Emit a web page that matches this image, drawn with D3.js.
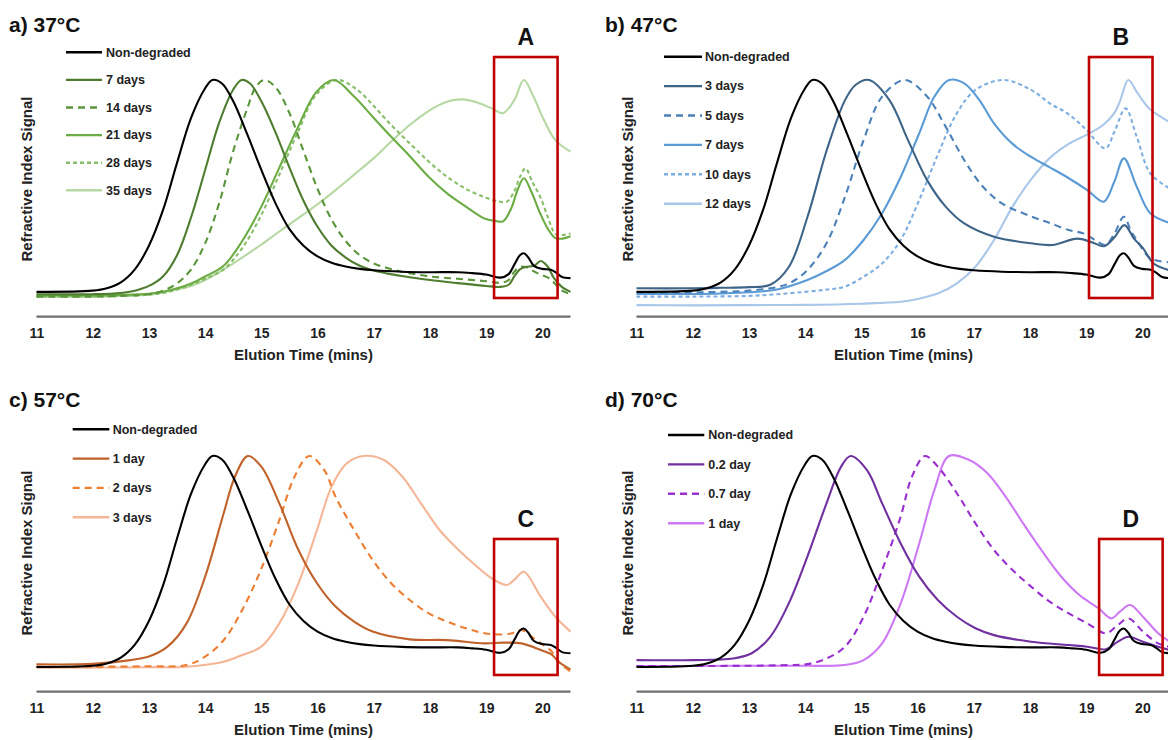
<!DOCTYPE html>
<html>
<head>
<meta charset="utf-8">
<script src="https://cdn.jsdelivr.net/npm/d3@7"></script>
<style>
  html, body { margin: 0; padding: 0; background: #fff; }
  svg { display: block; font-family: "Liberation Sans", Arial, sans-serif; }
</style>
</head>
<body>
<svg id="chart" width="1168" height="740"></svg>
<script>
// ---------- DATA (elution time in mins, refractive index signal, peak = 100) ----------
const tickValues = [11, 12, 13, 14, 15, 16, 17, 18, 19, 20];
const xLabel = "Elution Time (mins)";
const yLabel = "Refractive Index Signal";

const nonDegraded = [[11,10.5],[12,11],[12.25,12],[12.5,14.5],[12.75,20],[13,30],[13.25,45],[13.5,65],[13.75,84],[14,96.5],[14.13,100],[14.3,98.5],[14.5,91],[14.75,77],[15,62],[15.25,48],[15.5,37],[15.75,30],[16,25.5],[16.25,22.8],[16.5,21.2],[16.75,20.2],[17,19.6],[17.5,19],[18,18.8],[18.5,18.8],[18.75,18.4],[19,17.8],[19.25,16.5],[19.4,18],[19.5,22],[19.6,26],[19.67,26.8],[19.75,25],[19.85,21.5],[20,20.2],[20.15,19.8],[20.25,18.5],[20.35,16.8],[20.5,16.3]];

// a) 37 °C
const a7days = [[11,9.5],[12,9.5],[12.5,10],[12.75,11],[13,13],[13.25,17],[13.5,26],[13.75,42],[14,62],[14.25,82],[14.5,96],[14.65,100],[14.8,98.5],[15,91],[15.25,78],[15.5,63],[15.75,49],[16,38],[16.25,30],[16.5,25],[16.75,21.5],[17,19.5],[17.25,18.2],[17.5,17.2],[18,15.5],[18.5,14.2],[19,13],[19.25,12.6],[19.4,13.5],[19.5,17],[19.6,20],[19.7,21],[19.85,21.5],[19.97,23.5],[20.1,21],[20.2,16.5],[20.35,12.5],[20.5,10.5]];
const a14days = [[11,8.5],[12,8.5],[12.5,8.8],[13,9.5],[13.25,11],[13.5,14],[13.75,20],[14,31],[14.25,48],[14.5,70],[14.75,88],[14.9,97],[15.05,100],[15.25,97],[15.5,86],[15.75,70],[16,54],[16.25,41],[16.5,32],[16.75,26],[17,22.5],[17.25,20.5],[17.5,19],[18,17],[18.5,16],[19,15],[19.25,14.3],[19.4,15.5],[19.5,19],[19.6,21],[19.7,21],[19.8,19.8],[19.9,18.5],[20,17.5],[20.1,16.5],[20.2,14.5],[20.35,11],[20.5,9.5]];
const a21days = [[11,9],[12,9],[12.5,9.2],[13,9.7],[13.25,10.5],[13.5,12],[13.75,14],[14,17],[14.33,21.5],[14.66,32],[15,46.5],[15.32,63],[15.65,80],[15.98,95],[16.29,100],[16.65,93],[16.98,84.5],[17.31,76],[17.65,67.6],[17.98,59],[18.31,52],[18.64,46.5],[18.97,41.5],[19.15,40.5],[19.3,40.3],[19.45,46],[19.55,53],[19.67,58.5],[19.8,53],[19.96,43.7],[20.1,37],[20.23,33.2],[20.36,33],[20.5,34]];
const a28days = [[11,8.5],[12,8.5],[12.5,8.8],[13,9.3],[13.25,10],[13.5,11.5],[13.75,13.5],[14,16],[14.33,20],[14.66,29],[15,43],[15.32,60],[15.65,78],[15.98,94],[16.35,100],[16.7,96],[17,89],[17.31,81],[17.65,73],[17.98,65.5],[18.31,59],[18.64,54],[18.97,50.5],[19.2,48.8],[19.37,48.6],[19.5,53],[19.6,59],[19.7,62.7],[19.82,57],[19.96,50.7],[20.1,42],[20.23,35],[20.36,34.5],[20.5,35.2]];
const a35days = [[11,8.5],[12,8.5],[12.5,8.8],[13,9.5],[13.5,11.5],[13.75,13],[14,15.5],[14.33,20],[14.66,25],[15,30.5],[15.32,36],[15.65,41.5],[16,47.5],[16.32,53.5],[16.65,60],[17,67],[17.31,74],[17.64,81],[17.98,87],[18.3,90.8],[18.57,91.8],[18.84,90.5],[19.1,88],[19.3,86],[19.5,91.5],[19.67,100],[19.84,93],[20.03,83],[20.23,74.6],[20.5,69.7]];

// b) 47 °C
const b3days = [[11,12],[12,12],[12.5,12.2],[13,12.5],[13.38,13.5],[13.71,21],[14.04,42],[14.38,70],[14.71,91.5],[14.9,98],[15.14,100],[15.5,91.5],[15.83,74.6],[16.17,57.7],[16.5,46.5],[16.83,39.4],[17.36,33.8],[18.02,31],[18.4,30.3],[18.84,33],[19.1,31.5],[19.32,29.8],[19.5,33.5],[19.68,38.7],[19.85,33],[20.01,29],[20.2,22.5],[20.5,19.5]];
const b5days = [[11,10.3],[12,10.3],[12.5,10.5],[13,11],[13.5,12.5],[13.75,14.5],[14.04,19.7],[14.38,31],[14.71,50.7],[15.04,74.6],[15.37,93],[15.77,100],[16.17,93],[16.5,80.3],[16.83,66.2],[17.16,55],[17.5,47.9],[18.03,42.3],[18.36,39.5],[18.69,36.6],[18.95,35.2],[19.15,32.5],[19.34,30.3],[19.5,35],[19.67,42.2],[19.8,36],[19.9,32.4],[20.14,24.7],[20.5,23]];
const b7days = [[11,9.6],[12,9.6],[12.5,9.8],[13,10.3],[13.5,11.5],[14.04,15.5],[14.4,19.5],[14.71,24],[15.04,32.4],[15.37,43.7],[15.7,59],[16.03,77.5],[16.3,93],[16.56,100],[16.83,98.6],[17.1,91.5],[17.36,81.7],[17.69,73],[18.02,67.5],[18.36,63],[18.69,58.5],[19.02,53.5],[19.31,48.6],[19.5,57],[19.67,66.9],[19.9,54.9],[20.14,43.7],[20.5,39.5]];
const b10days = [[11,8.5],[12,8.5],[13,8.8],[13.5,9.5],[14,10.5],[14.4,11.5],[14.71,12.7],[15.04,16.9],[15.37,22.5],[15.7,32.4],[16.03,49.3],[16.37,69],[16.7,86],[17.03,95.8],[17.52,100],[18.02,95.8],[18.36,90],[18.69,85.5],[19,79],[19.34,71.1],[19.5,78],[19.7,88],[19.9,76],[20.14,60.6],[20.5,54]];
const b12days = [[11,4.9],[12,4.8],[13,4.9],[14,5],[15,5.5],[15.7,6.3],[16,7.5],[16.37,9.9],[16.7,14.1],[17.03,21.1],[17.36,32.4],[17.69,46.5],[18.02,58],[18.35,67],[18.69,73],[19.02,77],[19.3,81],[19.5,86],[19.6,91],[19.75,100],[19.9,95],[20,91.5],[20.14,87.5],[20.5,82]];

// c) 57 °C
const c1day = [[11,11.6],[12,11.8],[12.67,13.4],[13,14.9],[13.33,19.1],[13.67,29],[14,48.8],[14.33,75.7],[14.53,91.2],[14.76,100],[15,95.5],[15.32,79.9],[15.66,60.1],[15.99,46],[16.32,36.1],[16.65,29.7],[16.98,25.5],[17.64,22.2],[18.3,21.9],[18.97,20.5],[19.3,20.8],[19.63,20.5],[19.97,17.7],[20.15,16],[20.3,12.5],[20.5,9.5]];
const c2days = [[11,10.6],[12,10.6],[13,10.8],[13.67,11.3],[14,14.9],[14.33,21.9],[14.66,34.7],[14.99,51.6],[15.32,72.8],[15.59,91.2],[15.85,100],[16.12,94],[16.32,82.7],[16.65,68.6],[16.98,55.9],[17.31,46],[17.64,38.9],[17.98,33.2],[18.31,29.7],[18.64,26.9],[18.97,24.8],[19.3,24.3],[19.5,25],[19.63,26.2],[19.8,23.5],[19.97,20.5],[20.15,17.5],[20.3,12.5],[20.5,8.5]];
const c3days = [[11,10.2],[12,10.2],[13,10.4],[13.67,10.6],[14.33,12.7],[14.66,15.6],[15,19.1],[15.32,29],[15.66,46],[15.99,68.6],[16.25,87],[16.52,96.9],[16.82,100],[17.18,98.3],[17.51,91.2],[17.84,79.9],[18.17,68.6],[18.51,60.1],[18.84,53],[19.1,48.1],[19.37,45.3],[19.52,48],[19.67,50.9],[19.97,40.3],[20.23,31.8],[20.5,25.5]];

// d) 70 °C
const d02day = [[11,13.4],[12,13.4],[12.72,14.1],[13.05,16.3],[13.38,23.3],[13.71,37.5],[14.04,57.3],[14.38,79.9],[14.64,95.5],[14.81,100],[15.1,94],[15.37,79.9],[15.7,62.9],[16.03,48.8],[16.36,38.9],[16.7,31.8],[17.03,26.9],[17.36,24],[18.02,21.2],[18.69,19.8],[19.02,19.1],[19.35,18],[19.55,21],[19.75,23.3],[20.01,21.2],[20.28,19.1],[20.5,17.5]];
const d07day = [[11,10.9],[12,10.9],[13,11],[13.7,11.3],[14.04,11.7],[14.38,14.1],[14.71,19.1],[15.04,31.8],[15.37,51.6],[15.7,74.3],[15.9,91.2],[16.13,100],[16.36,95.5],[16.7,84.2],[17.03,71.4],[17.36,60.1],[17.69,51.6],[18.02,44.6],[18.35,38.2],[18.69,33.2],[19.02,29],[19.35,24.8],[19.55,28],[19.75,31.1],[20.01,25.5],[20.28,20.5],[20.5,19]];
const d1day = [[11,10.9],[12,10.9],[13,11],[14,11],[14.71,11.3],[15.04,13.4],[15.37,20.5],[15.7,37.5],[16.03,62.9],[16.3,85.6],[16.56,100],[16.9,98.5],[17.23,93],[17.56,83],[17.89,71],[18.22,59.5],[18.55,49],[18.88,41],[19.22,35.4],[19.45,31.1],[19.6,34],[19.78,36.8],[20.01,31.8],[20.28,24.8],[20.5,21]];

// highlighted regions [t0, t1, signalBottom, signalTop]
const boxA = [19.14, 20.27, 7.9, 109.7];
const boxB = [19.05, 20.18, 7.9, 109.7];
const boxC = [19.14, 20.27, 7.1, 64.8];
const boxD = [19.23, 20.36, 7.1, 64.8];

// ---------- PANELS (layout + styles) ----------
const panels = [
  { title: "a) 37°C", tx: 9, ty: 32, xr: [36.5, 570.5], axisY: 316.7, peakY: 80, ylx: 27, yly: 179,
    leg: { x1: 66, x2: 102, tx: 106, y0: 52.3, dy: 27.6 }, box: boxA, boxLabel: "A", axisEnd: 570.5,
    series: [
      { name: "Non-degraded", data: nonDegraded, color: "#000000", dash: null },
      { name: "7 days",  data: a7days,  color: "#4f7d2f", dash: null },
      { name: "14 days", data: a14days, color: "#5a953a", dash: "7,5" },
      { name: "21 days", data: a21days, color: "#6cac45", dash: null },
      { name: "28 days", data: a28days, color: "#88be68", dash: "4,3" },
      { name: "35 days", data: a35days, color: "#b6d8a3", dash: null }
    ]},
  { title: "b) 47°C", tx: 605, ty: 32, xr: [636.5, 1170.5], axisY: 316.7, peakY: 80, ylx: 628, yly: 179,
    leg: { x1: 664, x2: 702, tx: 705, y0: 56.7, dy: 29.4 }, box: boxB, boxLabel: "B", axisEnd: 1168,
    series: [
      { name: "Non-degraded", data: nonDegraded, color: "#000000", dash: null },
      { name: "3 days",  data: b3days,  color: "#3e6488", dash: null },
      { name: "5 days",  data: b5days,  color: "#4b80b8", dash: "7,5" },
      { name: "7 days",  data: b7days,  color: "#5b9bd5", dash: null },
      { name: "10 days", data: b10days, color: "#7eaee0", dash: "4,3" },
      { name: "12 days", data: b12days, color: "#a9c7e9", dash: null }
    ]},
  { title: "c) 57°C", tx: 9, ty: 407, xr: [36.5, 570.5], axisY: 691.7, peakY: 456, ylx: 27, yly: 553,
    leg: { x1: 72.7, x2: 109.3, tx: 112.7, y0: 429.3, dy: 29.3 }, box: boxC, boxLabel: "C", axisEnd: 570.5,
    series: [
      { name: "Non-degraded", data: nonDegraded, color: "#000000", dash: null },
      { name: "1 day",  data: c1day,  color: "#c0622a", dash: null },
      { name: "2 days", data: c2days, color: "#ed7d31", dash: "7,5" },
      { name: "3 days", data: c3days, color: "#f5b597", dash: null }
    ]},
  { title: "d) 70°C", tx: 605, ty: 407, xr: [636.5, 1170.5], axisY: 691.7, peakY: 456, ylx: 628, yly: 553,
    leg: { x1: 668, x2: 704.3, tx: 708.3, y0: 435, dy: 29.4 }, box: boxD, boxLabel: "D", axisEnd: 1168,
    series: [
      { name: "Non-degraded", data: nonDegraded, color: "#000000", dash: null },
      { name: "0.2 day", data: d02day, color: "#7030a0", dash: null },
      { name: "0.7 day", data: d07day, color: "#9a2fcf", dash: "7,5" },
      { name: "1 day",   data: d1day,  color: "#cd78f4", dash: null }
    ]}
];

const svg = d3.select("#chart");
svg.append("rect").attr("width", 1168).attr("height", 740).attr("fill", "#fff");

panels.forEach(p => {
  const x = d3.scaleLinear().domain([11, 20.5]).range(p.xr);
  const y = d3.scaleLinear().domain([0, 100]).range([p.axisY, p.peakY]);
  const g = svg.append("g");

  // title
  g.append("text").attr("x", p.tx).attr("y", p.ty)
    .attr("font-size", 21).attr("font-weight", "bold").attr("fill", "#111")
    .text(p.title);

  // y label
  g.append("text")
    .attr("transform", `translate(${p.ylx},${p.yly}) rotate(-90)`)
    .attr("text-anchor", "middle").attr("dy", "0.35em")
    .attr("font-size", 15).attr("font-weight", "bold").attr("fill", "#222")
    .text(yLabel);

  // x axis
  const axis = d3.axisBottom(x).tickValues(tickValues).tickSize(0).tickSizeOuter(0).tickPadding(11.3)
    .tickFormat(d3.format("d"));
  const ag = g.append("g").attr("transform", `translate(0,${p.axisY})`).call(axis);
  ag.select(".domain").attr("stroke", "#6f6f6f").attr("stroke-width", 2.2)
    .attr("d", `M${p.xr[0]},0H${p.axisEnd}`);
  ag.selectAll(".tick text").attr("font-size", 14).attr("font-weight", "bold").attr("fill", "#222")
    .attr("font-family", "'Liberation Sans', Arial, sans-serif");

  g.append("text").attr("x", (p.xr[0] + p.xr[1]) / 2).attr("y", p.axisY + 43.5)
    .attr("text-anchor", "middle").attr("font-size", 15).attr("font-weight", "bold").attr("fill", "#222")
    .text(xLabel);

  // curves (draw lightest/last first so dark lines sit on top)
  const line = d3.line().x(d => x(d[0])).y(d => y(d[1])).curve(d3.curveCatmullRom.alpha(0.5));
  p.series.slice().reverse().forEach(s => {
    g.append("path").datum(s.data)
      .attr("d", line).attr("fill", "none")
      .attr("stroke", s.color).attr("stroke-width", 2.1)
      .attr("stroke-dasharray", s.dash)
      .attr("stroke-linejoin", "round");
  });

  // red highlight box
  const b = p.box;
  g.append("rect")
    .attr("x", x(b[0])).attr("y", y(b[3]))
    .attr("width", x(b[1]) - x(b[0])).attr("height", y(b[2]) - y(b[3]))
    .attr("fill", "none").attr("stroke", "#c00000").attr("stroke-width", 2.6);
  g.append("text").attr("x", (x(b[0]) + x(b[1])) / 2).attr("y", y(b[3]) - 12)
    .attr("text-anchor", "middle").attr("font-size", 23).attr("font-weight", "bold").attr("fill", "#111")
    .text(p.boxLabel);

  // legend
  const lg = g.append("g");
  p.series.forEach((s, i) => {
    const ly = p.leg.y0 + i * p.leg.dy;
    lg.append("line").attr("x1", p.leg.x1).attr("x2", p.leg.x2).attr("y1", ly).attr("y2", ly)
      .attr("stroke", s.color).attr("stroke-width", 2.4).attr("stroke-dasharray", s.dash);
    lg.append("text").attr("x", p.leg.tx).attr("y", ly).attr("dy", "0.35em")
      .attr("font-size", 12.5).attr("font-weight", "bold").attr("fill", "#222")
      .text(s.name);
  });
});
</script>
</body>
</html>
